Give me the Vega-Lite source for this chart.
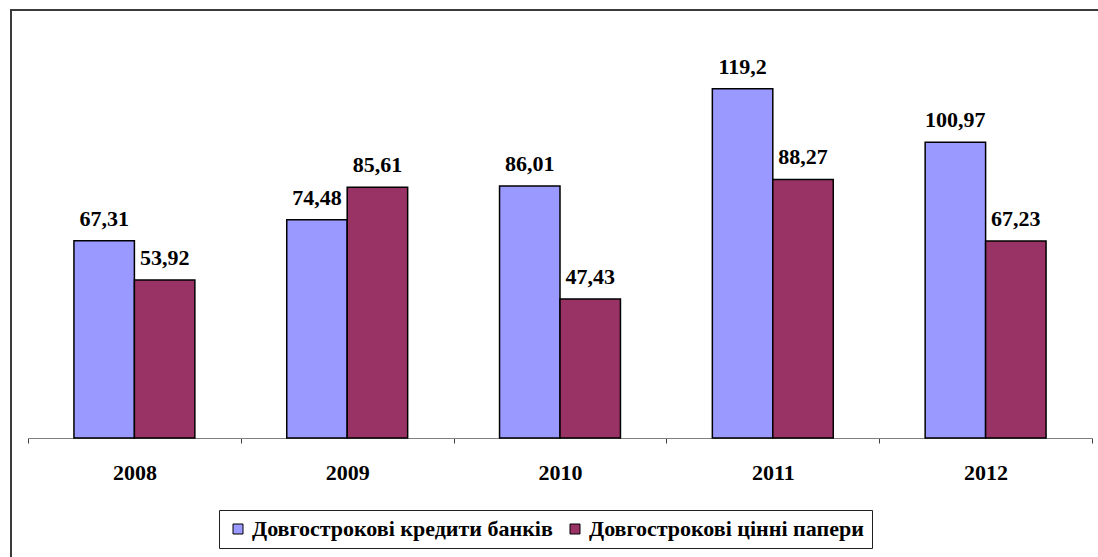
{
  "$schema": "https://vega.github.io/schema/vega-lite/v6.json",
  "width": 1100,
  "height": 560,
  "padding": {"left": 11, "top": 10, "right": 0, "bottom": 0},
  "autosize": {"type": "none"},
  "background": "white",
  "config": {
    "view": {"stroke": "#3a3a3a", "strokeWidth": 2},
    "locale": {"number": {"decimal": ",", "thousands": " ", "grouping": [3], "currency": ["", ""]}}
  },
  "data": {
    "values": [
      {"year": "2008", "series": "Довгострокові кредити банків", "value": 67.31},
      {"year": "2008", "series": "Довгострокові цінні папери", "value": 53.92},
      {"year": "2009", "series": "Довгострокові кредити банків", "value": 74.48},
      {"year": "2009", "series": "Довгострокові цінні папери", "value": 85.61},
      {"year": "2010", "series": "Довгострокові кредити банків", "value": 86.01},
      {"year": "2010", "series": "Довгострокові цінні папери", "value": 47.43},
      {"year": "2011", "series": "Довгострокові кредити банків", "value": 119.2},
      {"year": "2011", "series": "Довгострокові цінні папери", "value": 88.27},
      {"year": "2012", "series": "Довгострокові кредити банків", "value": 100.97},
      {"year": "2012", "series": "Довгострокові цінні папери", "value": 67.23}
    ]
  },
  "encoding": {
    "x": {
      "field": "year",
      "type": "nominal",
      "scale": {"range": [17, 1081], "paddingInner": 0, "paddingOuter": 0},
      "axis": {
        "title": null,
        "offset": -132,
        "labelAngle": 0,
        "domainColor": "#808080",
        "domainWidth": 1,
        "tickColor": "#404040",
        "tickSize": 5,
        "tickBand": "extent",
        "labelFont": "Liberation Serif",
        "labelFontWeight": "bold",
        "labelFontSize": 22,
        "labelColor": "black",
        "labelPadding": 19
      }
    },
    "xOffset": {
      "field": "series",
      "type": "nominal",
      "sort": ["Довгострокові кредити банків", "Довгострокові цінні папери"],
      "scale": {"paddingOuter": 0.76, "paddingInner": 0}
    },
    "y": {
      "field": "value",
      "type": "quantitative",
      "scale": {"domain": [-45.05, 146.1], "nice": false},
      "axis": null
    }
  },
  "layer": [
    {
      "mark": {"type": "bar", "stroke": "black", "strokeWidth": 1.5},
      "encoding": {
        "color": {
          "field": "series",
          "type": "nominal",
          "scale": {
            "domain": ["Довгострокові кредити банків", "Довгострокові цінні папери"],
            "range": ["#9999FF", "#993366"]
          },
          "legend": {
            "orient": "none",
            "legendX": 208,
            "legendY": 500,
            "direction": "horizontal",
            "title": null,
            "strokeColor": "#202020",
            "padding": 8,
            "symbolType": "square",
            "symbolSize": 100,
            "symbolStrokeColor": "black",
            "symbolStrokeWidth": 1,
            "symbolOpacity": 1,
            "labelFont": "Liberation Serif",
            "labelFontWeight": "bold",
            "labelFontSize": 22,
            "labelColor": "black",
            "labelOffset": 3,
            "columnPadding": 11,
            "labelLimit": 400
          }
        }
      }
    },
    {
      "mark": {
        "type": "text",
        "font": "Liberation Serif",
        "fontWeight": "bold",
        "fontSize": 22,
        "color": "black",
        "baseline": "alphabetic",
        "dy": -15
      },
      "encoding": {
        "text": {"field": "value", "type": "quantitative", "format": ".2~f"}
      }
    }
  ]
}
